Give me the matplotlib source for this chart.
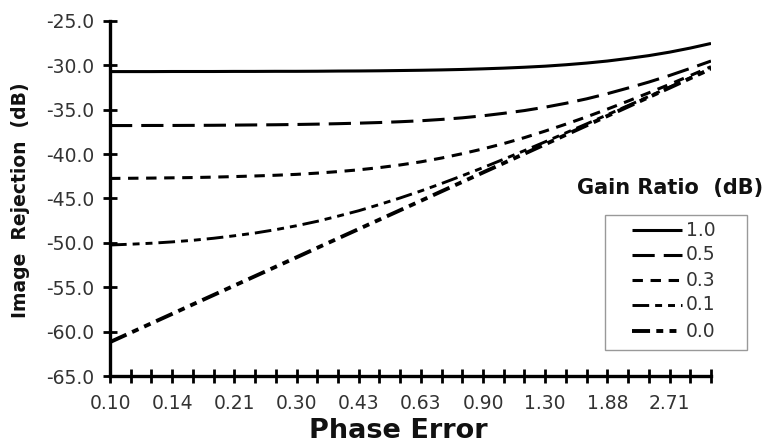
import matplotlib
matplotlib.use("Agg")
import matplotlib.pyplot as plt
from matplotlib.lines import Line2D
from matplotlib.patches import Rectangle

plt.rcParams['font.family'] = ['DejaVu Sans']
plt.rcParams['axes.unicode_minus'] = False
plt.rcParams['lines.scale_dashes'] = False

# phase error categories (degrees), one per tick on the category axis
phase_error = [0.10, 0.11, 0.13, 0.14, 0.16, 0.18, 0.21, 0.24, 0.27, 0.30,
               0.34, 0.38, 0.43, 0.49, 0.55, 0.63, 0.71, 0.80, 0.90, 1.02,
               1.15, 1.30, 1.47, 1.66, 1.88, 2.12, 2.40, 2.71, 3.06, 3.46]

gain_labels = ["1.0", "0.5", "0.3", "0.1", "0.0"]

# image rejection (dB) per gain ratio
rej_10 = [-30.70, -30.70, -30.70, -30.69, -30.69, -30.69, -30.68, -30.68, -30.67, -30.67,
          -30.66, -30.64, -30.63, -30.61, -30.58, -30.55, -30.51, -30.46, -30.39, -30.31,
          -30.21, -30.09, -29.93, -29.74, -29.51, -29.22, -28.90, -28.51, -28.05, -27.53]
rej_05 = [-36.78, -36.78, -36.77, -36.77, -36.76, -36.75, -36.73, -36.71, -36.69, -36.66,
          -36.62, -36.57, -36.51, -36.44, -36.35, -36.24, -36.09, -35.91, -35.68, -35.40,
          -35.09, -34.71, -34.27, -33.77, -33.19, -32.55, -31.88, -31.14, -30.34, -29.51]
rej_03 = [-42.74, -42.72, -42.70, -42.67, -42.64, -42.59, -42.53, -42.46, -42.38, -42.28,
          -42.14, -41.97, -41.77, -41.52, -41.22, -40.87, -40.44, -39.95, -39.41, -38.81,
          -38.14, -37.40, -36.62, -35.80, -34.93, -34.02, -33.09, -32.14, -31.15, -30.15]
rej_01 = [-50.24, -50.15, -50.04, -49.89, -49.71, -49.48, -49.20, -48.89, -48.51, -48.07,
          -47.57, -46.99, -46.38, -45.68, -44.94, -44.15, -43.31, -42.43, -41.52, -40.57,
          -39.60, -38.61, -37.60, -36.59, -35.56, -34.53, -33.50, -32.45, -31.40, -30.35]
rej_00 = [-61.18, -60.12, -59.06, -58.00, -56.93, -55.87, -54.81, -53.75, -52.69, -51.63,
          -50.56, -49.50, -48.44, -47.38, -46.32, -45.26, -44.19, -43.13, -42.07, -41.01,
          -39.95, -38.89, -37.82, -36.76, -35.70, -34.64, -33.58, -32.52, -31.45, -30.39]

series = [rej_10, rej_05, rej_03, rej_01, rej_00]
styles = [
    dict(linestyle='-', linewidth=2.2),
    dict(linestyle=(0, (16, 6.5)), linewidth=2.2),
    dict(linestyle=(0, (7.5, 5.5)), linewidth=2.2),
    dict(linestyle=(0, (12, 4.3, 5, 4.3, 5, 4.3)), linewidth=2.1),
    dict(linestyle=(0, (13, 4.5, 5, 4.5, 5, 4.5)), linewidth=2.8),
]

W, H = 783, 444
fig = plt.figure(figsize=(W / 100, H / 100), dpi=100)
ax = fig.add_axes([110 / W, 1 - 376 / H, 601 / W, 355 / H])

xs = list(range(len(phase_error)))
for vals, st in zip(series, styles):
    ax.plot(xs, vals, color='black', solid_capstyle='butt', dash_capstyle='butt', **st)

ax.set_xlim(0, len(phase_error) - 1)
ax.set_ylim(-65, -25)
ax.set_yticks([-65, -60, -55, -50, -45, -40, -35, -30, -25])
ax.set_yticklabels([f"{v:.1f}" for v in ax.get_yticks()])
ax.set_xticks(xs)
ax.set_xticklabels([f"{v:.2f}" if i % 3 == 0 else "" for i, v in enumerate(phase_error)])

for s in ['top', 'right']:
    ax.spines[s].set_visible(False)
for s in ['left', 'bottom']:
    ax.spines[s].set_linewidth(2.4)
ax.tick_params(axis='both', direction='inout', length=10, width=2, color='black',
               labelsize=13.5, labelcolor='#333')
ax.tick_params(axis='y', pad=6)
ax.tick_params(axis='x', pad=8)

fig.text(398 / W, 1 - 438 / H, "Phase Error", fontsize=19.5, fontweight='bold',
         ha='center', va='baseline', color='#111')
fig.text(21 / W, 1 - 200 / H, "Image  Rejection  (dB)", fontsize=13.5, fontweight='bold',
         rotation=90, ha='center', va='center', color='#111')

# legend
fig.text(670 / W, 1 - 188 / H, "Gain Ratio  (dB)", fontsize=15, fontweight='bold',
         ha='center', va='center', color='#111')
fig.add_artist(Rectangle((605 / W, 1 - 350 / H), 142 / W, 135 / H, transform=fig.transFigure,
                         fill=False, edgecolor='#999', linewidth=1))
row_y = [230, 255, 280, 305, 331]
for lab, st, yy in zip(gain_labels, styles, row_y):
    fig.add_artist(Line2D([632 / W, 682 / W], [1 - yy / H, 1 - yy / H], transform=fig.transFigure,
                          color='black', solid_capstyle='butt', dash_capstyle='butt', **st))
    fig.text(686 / W, 1 - yy / H, lab, fontsize=13.5, ha='left', va='center', color='#333')

fig.savefig("out.png", dpi=100)
